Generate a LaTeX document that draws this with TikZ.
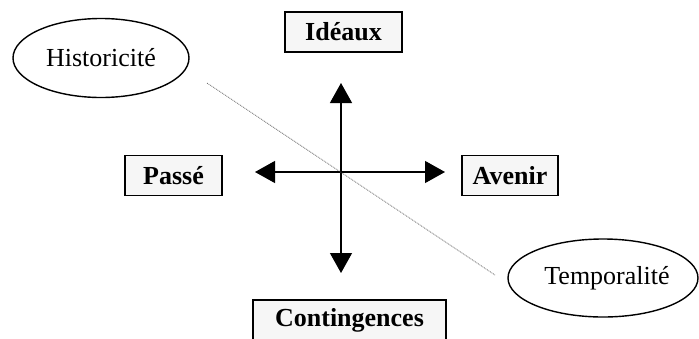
\documentclass[tikz,border=0pt]{standalone}
\usepackage{fontspec}
\setmainfont{Liberation Serif}
\usetikzlibrary{arrows.meta,shapes.geometric}

\tikzset{
  pole/.style={draw, line width=1.2pt, fill=gray!7, font=\fontsize{26}{30}\selectfont\bfseries, minimum height=40pt, inner xsep=0pt},
  champ/.style={draw, ellipse, line width=1.4pt, font=\fontsize{26}{30}\selectfont, inner sep=0pt},
  axe/.style={line width=1.3pt, -{Triangle[length=20pt, width=22pt]}}
}

\begin{document}
\begin{tikzpicture}[x=1pt, y=-1pt]
\useasboundingbox (0,0) rectangle (699,338);
\node[pole, minimum width=117pt] (ideaux) at (343.5,32) {Idéaux};
\node[pole, minimum width=97pt] (passe) at (173.5,175.5) {Passé};
\node[pole, minimum width=96pt] (avenir) at (510,175.5) {Avenir};
\node[pole, minimum width=193pt] (conting) at (349.5,320) {Contingences};
\node[champ, minimum width=176pt, minimum height=79pt] (histo) at (101,58) {Historicité};
\node[champ, minimum width=190pt, minimum height=78pt] (tempo) at (603,278) {\hspace{8pt}Temporalité};
\coordinate (o) at (341,172);
\coordinate (haut) at (341,83);
\coordinate (bas) at (341,273);
\coordinate (gauche) at (255,172);
\coordinate (droite) at (445,172);
\coordinate (d1) at (207,83);
\coordinate (d2) at (495,275);
\draw[axe] (o) -- (haut);
\draw[axe] (o) -- (bas);
\draw[axe] (o) -- (gauche);
\draw[axe] (o) -- (droite);
\draw[black!75, line width=0.6pt, dash pattern=on 0.9pt off 0.9pt] (d1) -- (d2);
\end{tikzpicture}
\end{document}
